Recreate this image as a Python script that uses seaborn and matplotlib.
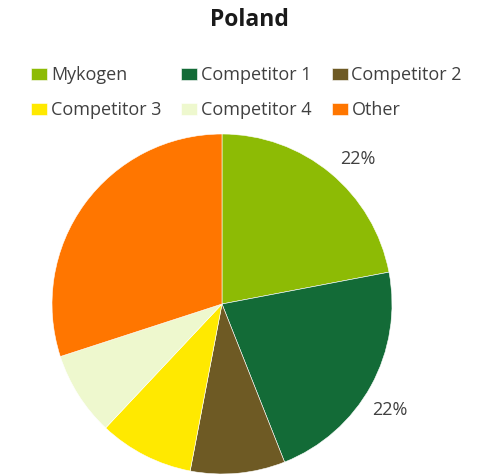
import numpy as np
import matplotlib
matplotlib.use("Agg")
import matplotlib.pyplot as plt
import seaborn as sns

categories = ["Mykogen", "Competitor 1", "Competitor 2", "Competitor 3", "Competitor 4", "Other"]
shares = [22, 22, 9, 9, 8, 30]
labels_shown = ["22%", "22%", "", "", "", ""]
colors = ["#8DBB05", "#136B37", "#6E5A24", "#FFE900", "#EEF8CE", "#FF7600"]

sns.set_theme(style="white")
plt.rcParams["font.family"] = ["Open Sans", "DejaVu Sans"]

W, H = 487, 476
fig = plt.figure(figsize=(W / 100, H / 100), dpi=100)
fig.patch.set_facecolor("white")

cx, cy, R = 222, 304, 170
half = 1.25 * R
ax = fig.add_axes([(cx - half) / W, (H - cy - half) / H, 2 * half / W, 2 * half / H])

wedges, _ = ax.pie(shares, colors=colors, startangle=90, counterclock=False,
                   wedgeprops=dict(edgecolor="white", linewidth=0.4))
ax.set_xlim(-1.25, 1.25)
ax.set_ylim(-1.25, 1.25)
ax.set_aspect("equal")
ax.axis("off")

for w, lab in zip(wedges, labels_shown):
    if not lab:
        continue
    ang = np.deg2rad((w.theta1 + w.theta2) / 2 - 3.5)
    r = 1.165
    ax.text(r * np.cos(ang), r * np.sin(ang), lab, ha="center", va="center",
            fontsize=13, color="#404040")

fig.text(249 / W, 1 - 20 / H, "Poland", ha="center", va="center",
         fontsize=16.5, fontweight="bold", color="#1a1a1a")

# legend in row-major order (matplotlib fills columns first)
ncol = 3
nrow = int(np.ceil(len(categories) / ncol))
order = [r * ncol + c for c in range(ncol) for r in range(nrow)]
leg = fig.legend([wedges[i] for i in order], [categories[i] for i in order],
                 ncol=ncol, loc="upper left",
                 bbox_to_anchor=(31 / W, 1 - 66 / H), frameon=False,
                 fontsize=13, handlelength=0.9, handleheight=0.67,
                 handletextpad=0.2, columnspacing=1.1, labelspacing=0.95,
                 borderpad=0.0, borderaxespad=0.0)
for t in leg.get_texts():
    t.set_color("#404040")

fig.savefig("out.png", dpi=100, facecolor="white")
